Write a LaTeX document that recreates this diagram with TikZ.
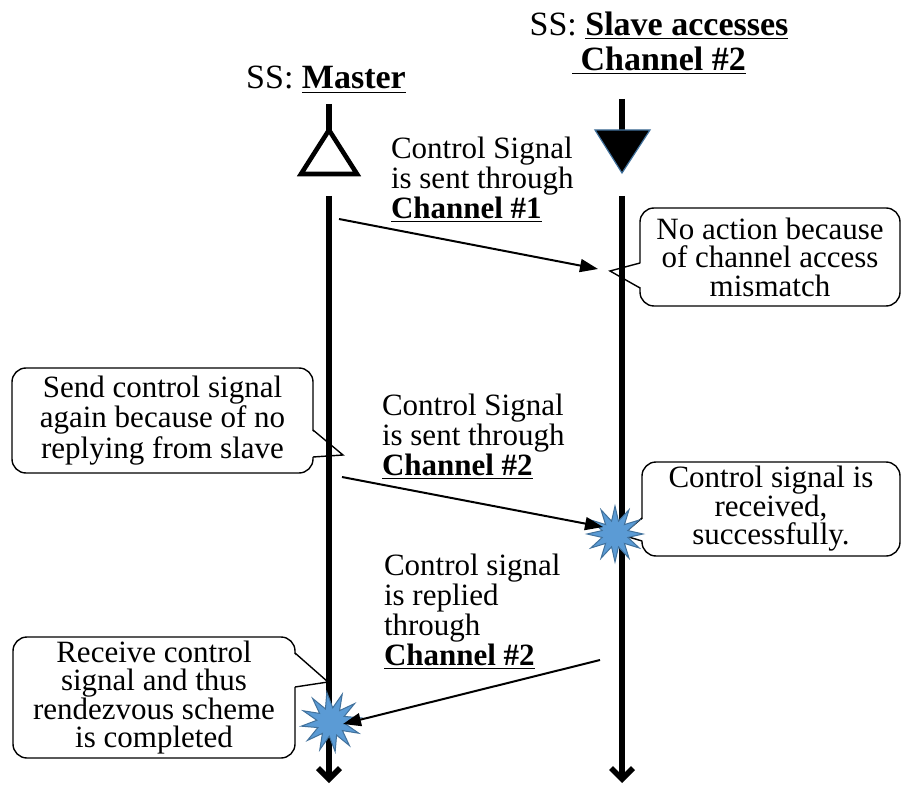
\documentclass[tikz,border=0pt]{standalone}
\usepackage{fontspec}
\setmainfont{Liberation Serif}
\usetikzlibrary{arrows.meta, shapes.geometric}
\definecolor{cburst}{HTML}{5B9BD5}
\definecolor{cburstline}{HTML}{41719C}
\tikzset{
  every picture/.style={line width=1pt},
  lifeline/.style={line width=2.8pt, -{Straight Barb[length=5.5pt, width=11pt]}},
  stem/.style={line width=2.8pt},
  msg/.style={line width=1pt, -{Triangle[length=9pt, width=6.5pt]}},
  msglabel/.style={font=\fontsize{15.5}{15}\selectfont, align=left, inner sep=0pt, anchor=north west},
  heading/.style={font=\fontsize{17}{17.5}\selectfont, align=center, inner sep=0pt},
  bubble/.style={draw, line width=0.7pt, fill=white, rounded corners=7pt, align=center, inner sep=0pt, font=\fontsize{15.5}{14.25}\selectfont},
  burst/.style={star, star points=12, star point ratio=2.1, fill=cburst, draw=cburstline, line width=0.5pt, inner sep=0pt, minimum size=28pt},
}

\begin{document}
\begin{tikzpicture}[x=0.5pt, y=-0.5pt]
  \useasboundingbox (0,0) rectangle (903,785);
  % headings
  \node[heading, anchor=base] (master) at (326,89) {SS: \underline{\textbf{Master}}};
  \node[heading, anchor=north] (slave) at (659,11) {SS: \underline{\textbf{Slave accesses}}\\\underline{\textbf{~Channel \#2}}};
  % callouts
  \node[bubble, minimum width=130pt, minimum height=49pt] (nomatch) at (770,257) {No action because\\of channel access\\mismatch};
  \node[bubble, minimum width=150.5pt, minimum height=52.5pt] (resend) at (162.5,420.5) {Send control signal\\again because of no\\replying from slave};
  \node[bubble, minimum width=129pt, minimum height=47pt] (received) at (771,509) {Control signal is\\received,\\successfully.};
  \node[bubble, minimum width=141pt, minimum height=60.5pt] (done) at (154,697.5) {Receive control\\signal and thus\\rendezvous scheme\\is completed};
  % callout pointers: edge x / inner x / upper y / lower y / tip
  \foreach \ex/\ix/\ya/\yb/\tx/\ty in {640/642/263/288/610/271, 313/311/430/457/343/455,
      642/644/518/541/622/535, 295/293/653/687/328/682}{
    \fill[white] (\ix,\ya) -- (\tx,\ty) -- (\ix,\yb) -- cycle;
    \draw[line width=0.7pt] (\ex,\ya) -- (\tx,\ty) -- (\ex,\yb);
  }
  % master lifeline
  \coordinate (mhead) at (329,130);
  \coordinate (mtop) at (329,196);
  \coordinate (mbot) at (329,783);
  \draw[stem] (329,104) -- (mhead);
  \draw[line width=2.3pt, line join=miter] (mhead) -- (301,174) -- (357,174) -- cycle;
  \draw[lifeline] (mtop) -- (mbot);
  % slave lifeline
  \coordinate (shead) at (622,130);
  \coordinate (stop) at (622,196);
  \coordinate (sbot) at (622,783);
  \draw[stem] (622,99) -- (shead);
  \filldraw[fill=black, draw=cburstline, line width=0.6pt] (595,130) -- (650,130) -- (622,173) -- cycle;
  \draw[lifeline] (stop) -- (sbot);
  % bursts
  \node[burst] (rx1) at (615,534) {};
  \node[burst, minimum size=30pt, rotate=8] (rx2) at (331,722) {};
  % messages
  \coordinate (m1s) at (339,219);
  \coordinate (m1e) at (598,269);
  \coordinate (m2s) at (342,477);
  \coordinate (m2e) at (603,527);
  \coordinate (m3s) at (600,660);
  \coordinate (m3e) at (343,724);
  \draw[msg] (m1s) -- (m1e);
  \draw[msg] (m2s) -- (m2e);
  \draw[msg] (m3s) -- (m3e);
  \node[msglabel] (lab1) at (390,136) {Control Signal\\is sent through\\\underline{\textbf{Channel \#1}}};
  \node[msglabel] (lab2) at (381,393) {Control Signal\\is sent through\\\underline{\textbf{Channel \#2}}};
  \node[msglabel] (lab3) at (383,553) {Control signal\\is replied\\through\\\underline{\textbf{Channel \#2}}};
\end{tikzpicture}
\end{document}
